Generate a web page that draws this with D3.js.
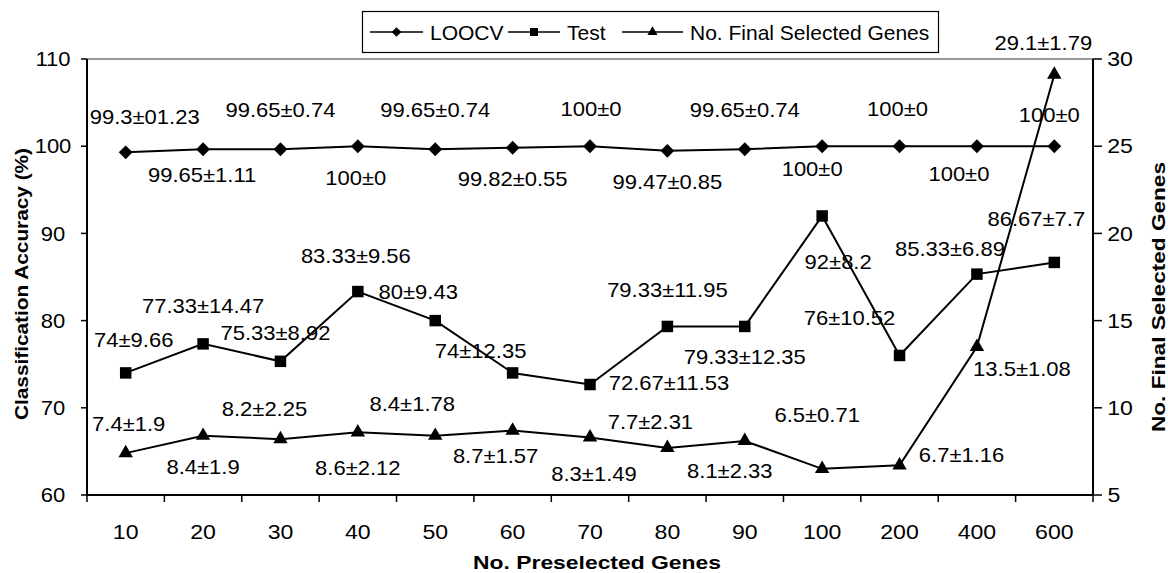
<!DOCTYPE html>
<html>
<head>
<meta charset="utf-8">
<script src="https://cdnjs.cloudflare.com/ajax/libs/d3/7.8.5/d3.min.js"></script>
<style>
  body { margin: 0; background: #fff; }
  text { font-family: "Liberation Sans", Arial, sans-serif; fill: #000; }
</style>
</head>
<body>
<script>
// chart data
var categories = ["10", "20", "30", "40", "50", "60", "70", "80", "90", "100", "200", "400", "600"];
var loocv = [99.3, 99.65, 99.65, 100, 99.65, 99.82, 100, 99.47, 99.65, 100, 100, 100, 100];
var loocvLabels = ["99.3±01.23", "99.65±1.11", "99.65±0.74", "100±0", "99.65±0.74", "99.82±0.55", "100±0",
    "99.47±0.85", "99.65±0.74", "100±0", "100±0", "100±0", "100±0"];
var test = [74, 77.33, 75.33, 83.33, 80, 74, 72.67, 79.33, 79.33, 92, 76, 85.33, 86.67];
var testLabels = ["74±9.66", "77.33±14.47", "75.33±8.92", "83.33±9.56", "80±9.43", "74±12.35", "72.67±11.53",
    "79.33±11.95", "79.33±12.35", "92±8.2", "76±10.52", "85.33±6.89", "86.67±7.7"];
var genes = [7.4, 8.4, 8.2, 8.6, 8.4, 8.7, 8.3, 7.7, 8.1, 6.5, 6.7, 13.5, 29.1];
var geneLabels = ["7.4±1.9", "8.4±1.9", "8.2±2.25", "8.6±2.12", "8.4±1.78", "8.7±1.57", "8.3±1.49",
    "7.7±2.31", "8.1±2.33", "6.5±0.71", "6.7±1.16", "13.5±1.08", "29.1±1.79"];
var leftTicks = [60, 70, 80, 90, 100, 110];
var rightTicks = [5, 10, 15, 20, 25, 30];
var legendNames = ["LOOCV", "Test", "No. Final Selected Genes"];

// where each value label sits relative to its marker (px)
var loocvOff = [[19, -35], [-1, 26], [0, -39], [-2, 32], [0, -39], [0, 31], [1, -37], [0, 31], [0, -39], [-10, 23], [-2, -37], [-18, 28], [-5, -31]];
var testOff = [[8, -33], [0, -38], [-5, -28], [-2, -36], [-17, -29], [-32, -22], [79, -2], [0, -37], [0, 30], [16, 46], [-50, -38], [-27, -25], [-18, -44]];
var geneOff = [[3, -29], [0, 31], [-16, -30], [0, 36], [-23, -32], [-17, 25], [4, 36], [-17, -26], [-15, 30], [-5, -54], [62, -10], [45, 22], [-11, -32]];

var W = 1168, H = 573;
var margin = { top: 59, right: 75, bottom: 78, left: 87 }
    , width = W - margin.left - margin.right
    , height = H - margin.top - margin.bottom;
var stretch = 1.1; // the source text is a bit wider than Arial

var svg = d3.select("body").append("svg")
    .attr("width", W)
    .attr("height", H);

var g = svg.append("g")
    .attr("transform", "translate(" + margin.left + "," + margin.top + ")");

var x = d3.scaleBand().domain(categories).range([0, width]);
var yL = d3.scaleLinear().domain([60, 110]).range([height, 0]);
var yR = d3.scaleLinear().domain([5, 30]).range([height, 0]);

function cx(i) { return x(categories[i]) + x.bandwidth() / 2; }

// text helper: centred text stretched horizontally
function label(parent, tx, ty, str, size, weight, rot) {
    var t = "translate(" + tx + "," + ty + ")" + (rot ? " rotate(" + rot + ")" : "") + " scale(" + stretch + ",1)";
    return parent.append("text")
        .attr("transform", t)
        .attr("text-anchor", "middle")
        .attr("dominant-baseline", "central")
        .style("font-size", size + "px")
        .style("font-weight", weight || "normal")
        .text(str);
}

// bold axis title with a fixed drawn length
function title(tx, ty, str, len, rot) {
    return svg.append("text")
        .attr("transform", "translate(" + tx + "," + ty + ")" + (rot ? " rotate(" + rot + ")" : ""))
        .attr("text-anchor", "middle")
        .attr("dominant-baseline", "central")
        .attr("textLength", len)
        .attr("lengthAdjust", "spacingAndGlyphs")
        .style("font-size", "19px")
        .style("font-weight", "bold")
        .text(str);
}

// plot frame: grey top edge
g.append("line")
    .attr("x1", 0).attr("x2", width)
    .attr("y1", 0).attr("y2", 0)
    .attr("stroke", "#9a9a9a").attr("stroke-width", 2);

// left axis
g.append("line").attr("x1", 0).attr("x2", 0).attr("y1", 0).attr("y2", height)
    .attr("stroke", "#000").attr("stroke-width", 2);
leftTicks.forEach(function (v) {
    g.append("line").attr("x1", -6).attr("x2", 0).attr("y1", yL(v)).attr("y2", yL(v))
        .attr("stroke", "#000").attr("stroke-width", 1.5);
    label(g, -34, yL(v), v, 20);
});

// right axis
g.append("line").attr("x1", width).attr("x2", width).attr("y1", 0).attr("y2", height)
    .attr("stroke", "#000").attr("stroke-width", 2);
rightTicks.forEach(function (v) {
    g.append("line").attr("x1", width).attr("x2", width + 9).attr("y1", yR(v)).attr("y2", yR(v))
        .attr("stroke", "#000").attr("stroke-width", 1.5);
    label(g, width + 25 + (v >= 10 ? 2 : -4), yR(v), v, 21);
});

// bottom axis
g.append("line").attr("x1", 0).attr("x2", width).attr("y1", height).attr("y2", height)
    .attr("stroke", "#000").attr("stroke-width", 2);
categories.forEach(function (c, i) {
    g.append("line").attr("x1", x(c)).attr("x2", x(c)).attr("y1", height).attr("y2", height + 7)
        .attr("stroke", "#000").attr("stroke-width", 1.5);
    label(g, cx(i), height + 37, c, 21);
});
g.append("line").attr("x1", width).attr("x2", width).attr("y1", height).attr("y2", height + 7)
    .attr("stroke", "#000").attr("stroke-width", 1.5);

// axis titles
title(margin.left + width / 2 + 7, 562, "No. Preselected Genes", 248);
title(21, 284, "Classification Accuracy (%)", 272, -90);
title(1158, 297, "No. Final Selected Genes", 270, -90);

// markers
var diamond = d3.symbol().type(d3.symbolSquare).size(96);
var square = d3.symbol().type(d3.symbolSquare).size(132);
var triangle = d3.symbol().type(d3.symbolTriangle).size(90);

var series = [
    { vals: loocv, labels: loocvLabels, off: loocvOff, y: yL, sym: diamond, rot: 45 },
    { vals: test, labels: testLabels, off: testOff, y: yL, sym: square, rot: 0 },
    { vals: genes, labels: geneLabels, off: geneOff, y: yR, sym: triangle, rot: 0 }
];

series.forEach(function (s) {
    g.append("path")
        .datum(s.vals)
        .attr("fill", "none")
        .attr("stroke", "#000")
        .attr("stroke-width", 2)
        .attr("d", d3.line()
            .x(function (d, i) { return cx(i) })
            .y(function (d) { return s.y(d) })
        );
    g.selectAll(null)
        .data(s.vals)
        .enter().append("path")
        .attr("d", s.sym)
        .attr("fill", "#000")
        .attr("transform", function (d, i) {
            return "translate(" + cx(i) + "," + s.y(d) + ") rotate(" + s.rot + ")";
        });
    s.vals.forEach(function (d, i) {
        label(g, cx(i) + s.off[i][0], s.y(d) + s.off[i][1], s.labels[i], 20);
    });
});

// legend
var leg = svg.append("g");
leg.append("rect")
    .attr("x", 362.5).attr("y", 11.5)
    .attr("width", 576).attr("height", 41)
    .attr("fill", "#fff").attr("stroke", "#000").attr("stroke-width", 1.2);
var legLine = [[370, 423], [508, 560], [622, 683]];
var legSym = [diamond, square, triangle];
var legRot = [45, 0, 0];
legendNames.forEach(function (name, i) {
    var l = legLine[i], ly = 32;
    leg.append("line").attr("x1", l[0]).attr("x2", l[1]).attr("y1", ly).attr("y2", ly)
        .attr("stroke", "#000").attr("stroke-width", 1.5);
    leg.append("path").attr("d", legSym[i]).attr("fill", "#000")
        .attr("transform", "translate(" + ((l[0] + l[1]) / 2) + "," + ly + ") rotate(" + legRot[i] + ") scale(0.7)");
    leg.append("text")
        .attr("x", l[1] + 7).attr("y", ly)
        .attr("dominant-baseline", "central")
        .style("font-size", "21px")
        .text(name);
});
</script>
</body>
</html>
